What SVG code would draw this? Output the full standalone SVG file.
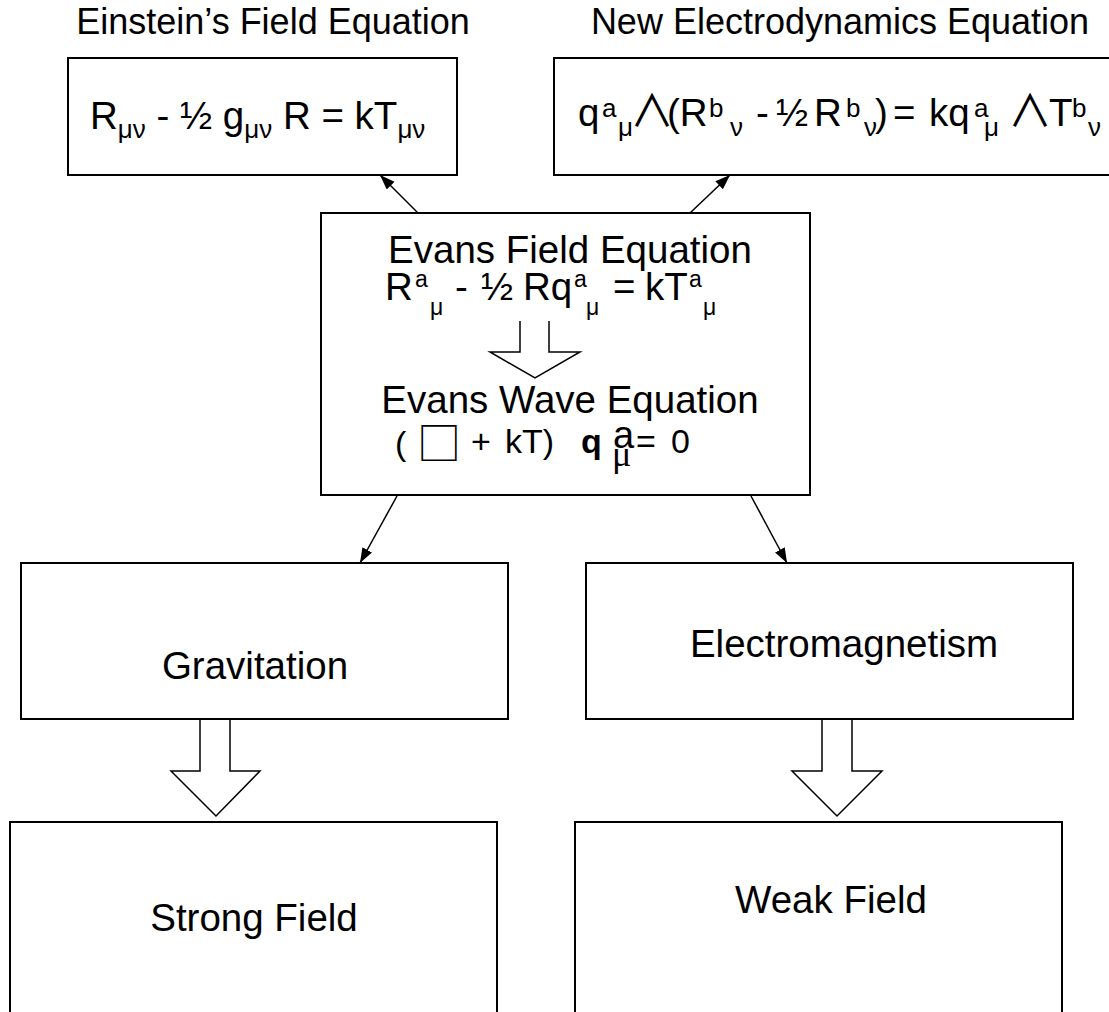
<svg xmlns="http://www.w3.org/2000/svg" width="1109" height="1012" viewBox="0 0 1109 1012">
<style>
.box{fill:#fff;stroke:#000;stroke-width:2}
.t{font-family:"Liberation Sans",Arial,sans-serif;fill:#000}
.conn{stroke:#000;stroke-width:1.5;fill:none}
.blk{fill:#fff;stroke:#000;stroke-width:1.5;stroke-linejoin:miter}
.sym{font-family:"Noto Sans CJK JP","DejaVu Sans",sans-serif}
</style>
<defs>
<marker id="ah" markerUnits="userSpaceOnUse" markerWidth="16" markerHeight="12" refX="15" refY="5.5" orient="auto">
<path d="M0,0 L15,5.5 L0,11 z" fill="#000"/>
</marker>
</defs>
<rect width="1109" height="1012" fill="#fff"/>

<g id="node-einstein">
<text class="t" x="273" y="34" font-size="36" text-anchor="middle">Einstein’s Field Equation</text>
<rect class="box" x="68" y="58" width="389" height="117"/>
<text class="t" x="90" y="129" font-size="38.5">R<tspan font-size="26" dy="9">μν</tspan><tspan dy="-9"> - ½ g</tspan><tspan font-size="26" dy="9">μν</tspan><tspan dy="-9"> R = kT</tspan><tspan font-size="26" dy="9">μν</tspan></text>
</g>

<g id="node-new-electrodynamics">
<text class="t" x="840" y="34" font-size="36" text-anchor="middle">New Electrodynamics Equation</text>
<rect class="box" x="554" y="58" width="600" height="117"/>
<text class="t" font-size="38.5"><tspan x="578" y="126">q</tspan><tspan x="602" y="117" font-size="26">a</tspan><tspan x="618" y="136" font-size="26">μ</tspan><tspan class="sym" x="630" y="127" font-size="44">∧</tspan><tspan x="667" y="126">(R</tspan><tspan x="709" y="117" font-size="26">b</tspan><tspan x="730" y="136" font-size="26">ν</tspan><tspan x="756" y="126">-</tspan><tspan x="776" y="126">½</tspan><tspan x="814" y="126">R</tspan><tspan x="846" y="117" font-size="26">b</tspan><tspan x="864" y="136" font-size="26">ν</tspan><tspan x="875" y="126">)</tspan><tspan x="893" y="126">=</tspan><tspan x="929" y="126">kq</tspan><tspan x="974" y="117" font-size="26">a</tspan><tspan x="984" y="136" font-size="26">μ</tspan><tspan class="sym" x="1008" y="127" font-size="44">∧</tspan><tspan x="1049" y="126">T</tspan><tspan x="1072" y="117" font-size="26">b</tspan><tspan x="1088" y="136" font-size="26">ν</tspan></text>
</g>

<g id="node-evans">
<rect class="box" x="321" y="213" width="489" height="282"/>
<text class="t" x="570" y="263" font-size="38.5" text-anchor="middle">Evans Field Equation</text>
<text class="t" font-size="38.5"><tspan x="385" y="300">R</tspan><tspan x="415" y="287" font-size="23">a</tspan><tspan x="430" y="315" font-size="23">μ</tspan><tspan x="455" y="300">-</tspan><tspan x="481" y="300">½</tspan><tspan x="523" y="300">Rq</tspan><tspan x="574" y="287" font-size="23">a</tspan><tspan x="586" y="315" font-size="23">μ</tspan><tspan x="613" y="300">=</tspan><tspan x="645" y="300">kT</tspan><tspan x="689" y="287" font-size="23">a</tspan><tspan x="703" y="315" font-size="23">μ</tspan></text>
<polyline class="blk" points="520,321 520,352 490,352 535,378 580,352 549,352 549,321"/>
<text class="t" x="570" y="413" font-size="38.5" text-anchor="middle">Evans Wave Equation</text>
<text class="t" font-size="34"><tspan x="395" y="455">(</tspan><tspan class="sym" x="417" y="460" font-size="44">□</tspan><tspan x="471" y="453">+</tspan><tspan x="505" y="453">k</tspan><tspan x="522" y="453">T)</tspan><tspan x="581" y="453" font-weight="bold">q</tspan><tspan x="613" y="448" font-size="38">a</tspan><tspan x="612" y="466" font-size="36" font-family="Liberation Serif,serif">μ</tspan><tspan x="636" y="453">=</tspan><tspan x="671" y="453">0</tspan></text>
</g>

<g id="node-gravitation">
<rect class="box" x="21" y="563" width="487" height="156"/>
<text class="t" x="255" y="679" font-size="38.5" text-anchor="middle">Gravitation</text>
</g>

<g id="node-electromagnetism">
<rect class="box" x="586" y="563" width="487" height="156"/>
<text class="t" x="844" y="657" font-size="38.5" text-anchor="middle">Electromagnetism</text>
</g>

<g id="node-strong-field">
<rect class="box" x="10" y="822" width="487" height="250"/>
<text class="t" x="254" y="931" font-size="38.5" text-anchor="middle">Strong Field</text>
</g>

<g id="node-weak-field">
<rect class="box" x="575" y="822" width="487" height="250"/>
<text class="t" x="831" y="913" font-size="38.5" text-anchor="middle">Weak Field</text>
</g>

<g id="connectors">
<line class="conn" x1="418" y1="213" x2="380" y2="175" marker-end="url(#ah)"/>
<line class="conn" x1="690" y1="213" x2="730" y2="175" marker-end="url(#ah)"/>
<line class="conn" x1="397" y1="496" x2="360" y2="563" marker-end="url(#ah)"/>
<line class="conn" x1="751" y1="496" x2="787" y2="563" marker-end="url(#ah)"/>
<polyline class="blk" points="200,720 200,771 171,771 216,816 260,771 230,771 230,720"/>
<polyline class="blk" points="822,720 822,771 792,771 837,816 882,771 852,771 852,720"/>
</g>
</svg>
